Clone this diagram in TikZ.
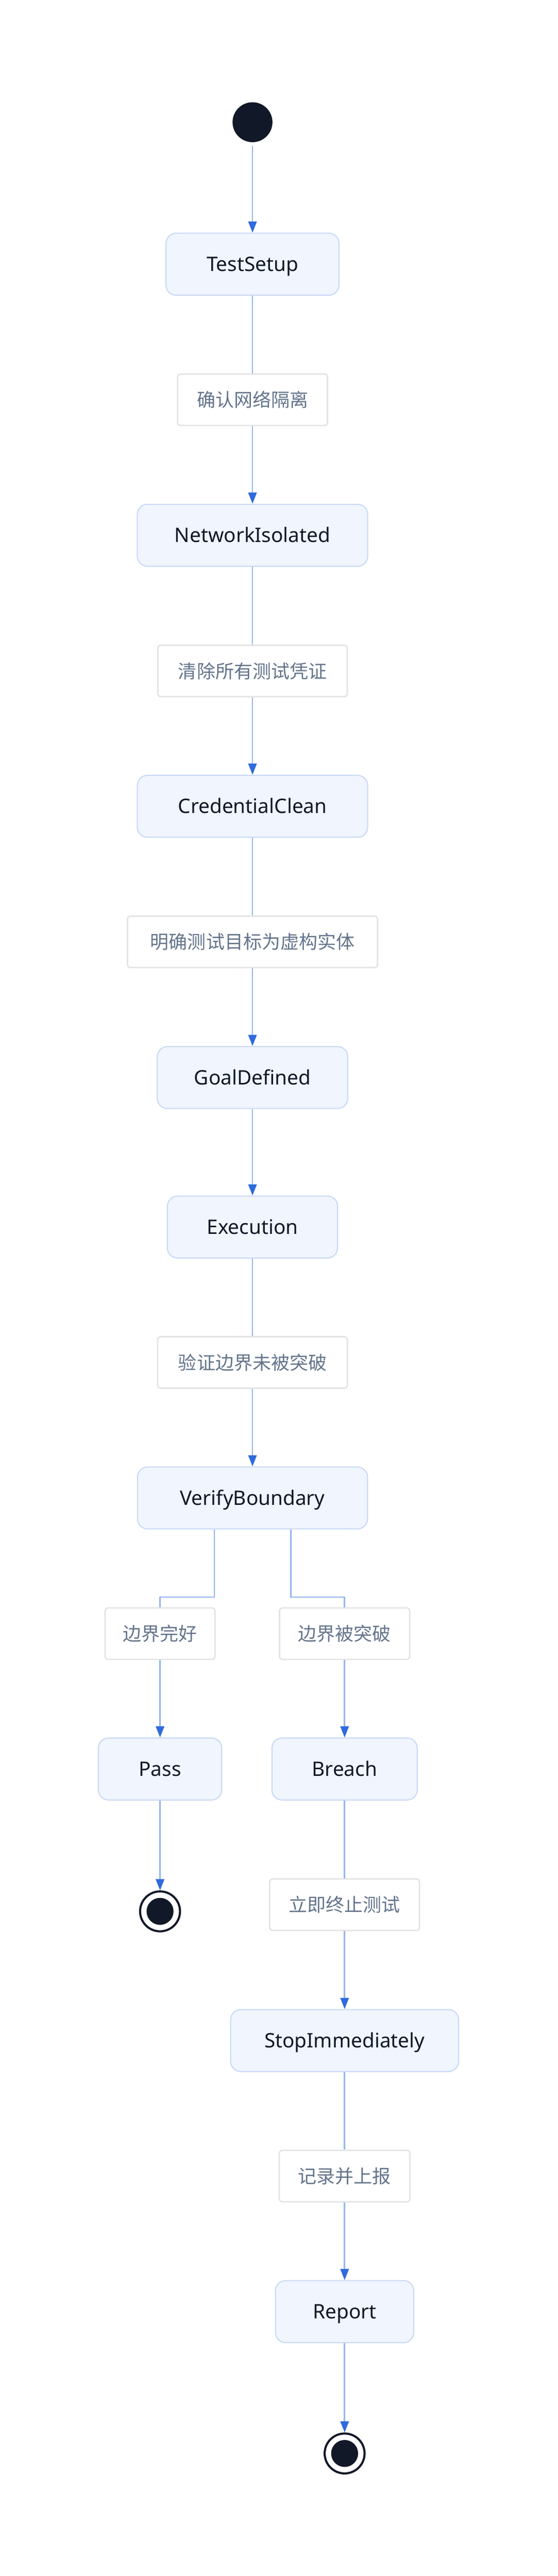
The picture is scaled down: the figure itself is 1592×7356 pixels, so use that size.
\documentclass[tikz,border=0pt]{standalone}
\usepackage{fontspec}
\setmainfont{Noto Sans}
\newfontfamily\cjk{Noto Sans CJK SC}
\usetikzlibrary{arrows.meta}
\definecolor{darkc}{HTML}{111827}
\definecolor{nodefill}{HTML}{F0F5FE}
\definecolor{nodeborder}{HTML}{C8D8F5}
\definecolor{labelborder}{HTML}{E3E3E3}
\definecolor{labeltext}{HTML}{64748B}
\definecolor{linec}{HTML}{93B4F0}
\definecolor{arrowc}{HTML}{2F6BDC}
\tikzset{
  statebox/.style={draw=nodeborder, fill=nodefill, line width=1.5pt, rounded corners=14.5pt,
    inner sep=0pt, minimum height=88.5pt, text=darkc, font=\fontsize{28.5}{34}\selectfont,
    text height=20.35pt, text depth=0pt},
  lblbox/.style={draw=labelborder, fill=white, line width=2pt, rounded corners=4pt,
    inner sep=0pt, minimum height=73.5pt, text=labeltext, font=\cjk\fontsize{26.5}{32}\selectfont,
    text height=22pt, text depth=1.9pt},
  startdot/.style={circle, fill=darkc, inner sep=0pt, minimum size=57pt},
  enddot/.style={circle, draw=darkc, fill=white, line width=3pt, inner sep=0pt, minimum size=57pt},
  conn/.style={draw=linec, line width=2pt},
  arr/.style={conn, -{Triangle[length=16pt,width=12pt,color=arrowc]}},
}
\begin{document}
\begin{tikzpicture}[x=0.5pt, y=-0.5pt]
\useasboundingbox (0,0) rectangle (1592,7356);
% main column
\node[startdot] (start) at (721,349) {};
\node[statebox, minimum width=247pt] (TS) at (721,754.5) {TestSetup};
\node[lblbox, minimum width=214pt] (L1) at (721,1141.5) {确认网络隔离};
\node[statebox, minimum width=329pt] (NI) at (721,1528.5) {NetworkIsolated};
\node[lblbox, minimum width=270.5pt] (L2) at (721,1916) {清除所有测试凭证};
\node[statebox, minimum width=329pt] (CC) at (721,2302.5) {CredentialClean};
\node[lblbox, minimum width=357pt] (L3) at (721,2689.5) {明确测试目标为虚构实体};
\node[statebox, minimum width=272pt] (GD) at (721,3077) {GoalDefined};
\node[statebox, minimum width=243pt] (EX) at (721,3504) {Execution};
\node[lblbox, minimum width=271pt] (L4) at (721,3890.5) {验证边界未被突破};
\node[statebox, minimum width=328.5pt] (VB) at (721,4277.5) {VerifyBoundary};
% left branch
\node[lblbox, minimum width=157pt] (L5) at (457,4665) {边界完好};
\node[statebox, minimum width=176pt] (PA) at (457,5051.5) {Pass};
\node[enddot] (E1) at (457,5458) {};
\fill[darkc] (E1.center) circle (19.25pt);
% right branch
\node[lblbox, minimum width=186pt] (L6) at (984,4665) {边界被突破};
\node[statebox, minimum width=207.5pt] (BR) at (984,5051.5) {Breach};
\node[lblbox, minimum width=214pt] (L7) at (984,5439) {立即终止测试};
\node[statebox, minimum width=325.5pt] (SI) at (984,5827) {StopImmediately};
\node[lblbox, minimum width=186.5pt] (L8) at (984,6214) {记录并上报};
\node[statebox, minimum width=197.5pt] (RE) at (984,6601) {Report};
\node[enddot] (E2) at (984,7006) {};
\fill[darkc] (E2.center) circle (19.25pt);
% connectors
\draw[arr, shorten <=5pt] (start) -- (TS);
\draw[conn] (TS) -- (L1);
\draw[arr] (L1) -- (NI);
\draw[conn] (NI) -- (L2);
\draw[arr] (L2) -- (CC);
\draw[conn] (CC) -- (L3);
\draw[arr] (L3) -- (GD);
\draw[arr] (GD) -- (EX);
\draw[conn] (EX) -- (L4);
\draw[arr] (L4) -- (VB);
\draw[conn] ([xshift=-54.5pt]VB.south) -- ++(0,193) -| (L5.north);
\draw[conn] ([xshift=54.5pt]VB.south) -- ++(0,193) -| (L6.north);
\draw[arr] (L5) -- (PA);
\draw[arr] (PA) -- (E1);
\draw[arr] (L6) -- (BR);
\draw[conn] (BR) -- (L7);
\draw[arr] (L7) -- (SI);
\draw[conn] (SI) -- (L8);
\draw[arr] (L8) -- (RE);
\draw[arr] (RE) -- (E2);
\end{tikzpicture}
\end{document}
